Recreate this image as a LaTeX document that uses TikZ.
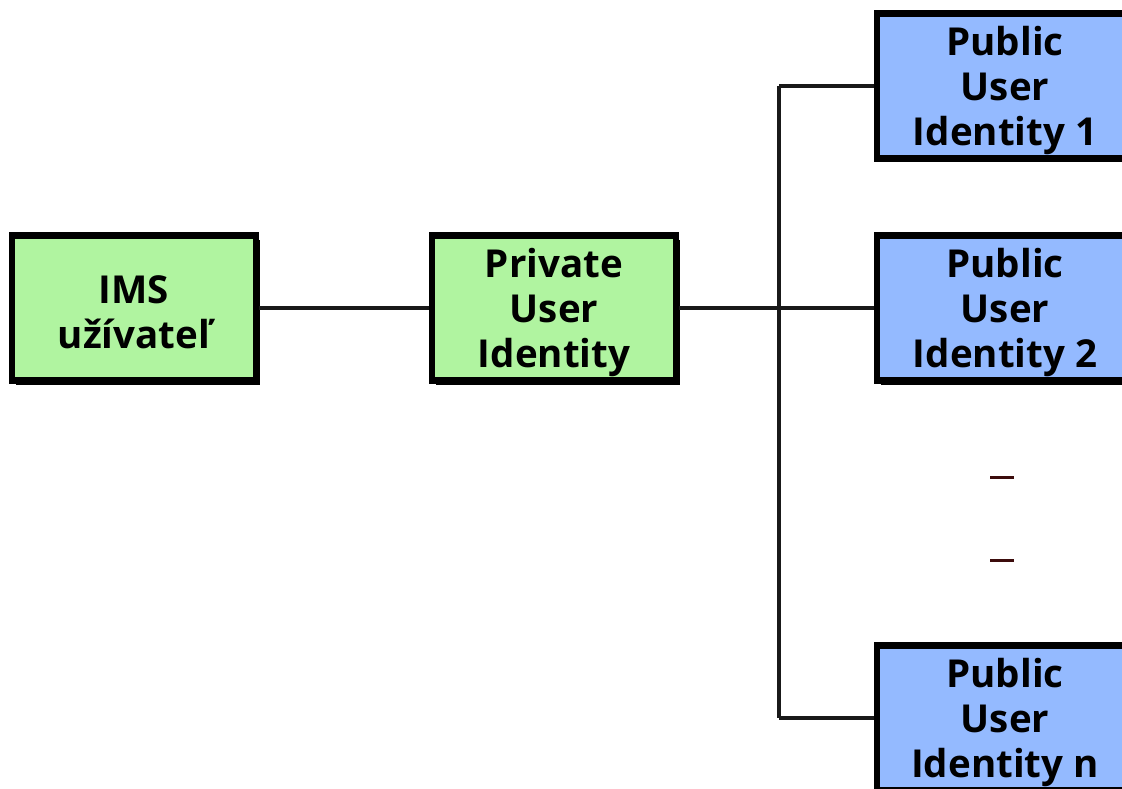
\documentclass[tikz,border=0pt]{standalone}
\usepackage{fontspec}
\setmainfont{Open Sans}[BoldFont={Open Sans Bold}]
\usetikzlibrary{shadows}
\definecolor{boxgreen}{RGB}{176,244,160}
\definecolor{boxblue}{RGB}{148,186,255}
\definecolor{dashbrown}{RGB}{60,12,12}
\tikzset{
  idbox/.style={draw=black, line width=6.5pt, minimum width=244pt, minimum height=145pt,
    inner sep=0pt,
    drop shadow={shadow xshift=4pt, shadow yshift=-4pt, opacity=1, fill=black}},
  privbox/.style={idbox, fill=boxgreen},
  pubbox/.style={idbox, fill=boxblue, minimum width=256pt},
  boxtext/.style={align=center, inner sep=0pt, yshift=-4pt,
    font=\fontsize{38.5}{45}\selectfont\bfseries},
  link/.style={line width=3.2pt, draw=black!90},
  gap/.style={line width=3pt, draw=dashbrown}
}
\begin{document}
\begin{tikzpicture}[x=1pt,y=-1pt]
  \useasboundingbox (0,0) rectangle (1122,789);
  \clip (0,0) rectangle (1122,789);
  % tree trunk and its junctions
  \coordinate (top) at (779,86);
  \coordinate (bot) at (779,718);
  \draw[link] (top) -- (bot);
  % boxes
  \node[privbox] (ims) at (134,308) {};
  \node[privbox] (priv) at (554,308) {};
  \node[pubbox] (pub1) at (1005,86) {};
  \node[pubbox] (pub2) at (1005,308) {};
  \node[pubbox] (pubn) at (1005,718) {};
  % box captions
  \node[boxtext] (ims-t) at (ims.center) {IMS\\užívateľ};
  \node[boxtext] (priv-t) at (priv.center) {Private\\User\\Identity};
  \node[boxtext] (pub1-t) at (pub1.center) {Public\\User\\Identity 1};
  \node[boxtext] (pub2-t) at (pub2.center) {Public\\User\\Identity 2};
  \node[boxtext] (pubn-t) at (pubn.center) {Public\\User\\Identity n};
  % connectors
  \draw[link] (ims.east) -- (priv.west);
  \draw[link] (priv.east) -- (pub2.west);
  \draw[link] (top) -- (pub1.west);
  \draw[link] (bot) -- (pubn.west);
  % ellipsis marks between the public identities
  \draw[gap] (990,477.5) -- (1014,477.5);
  \draw[gap] (990,560) -- (1014,560);
\end{tikzpicture}
\end{document}
